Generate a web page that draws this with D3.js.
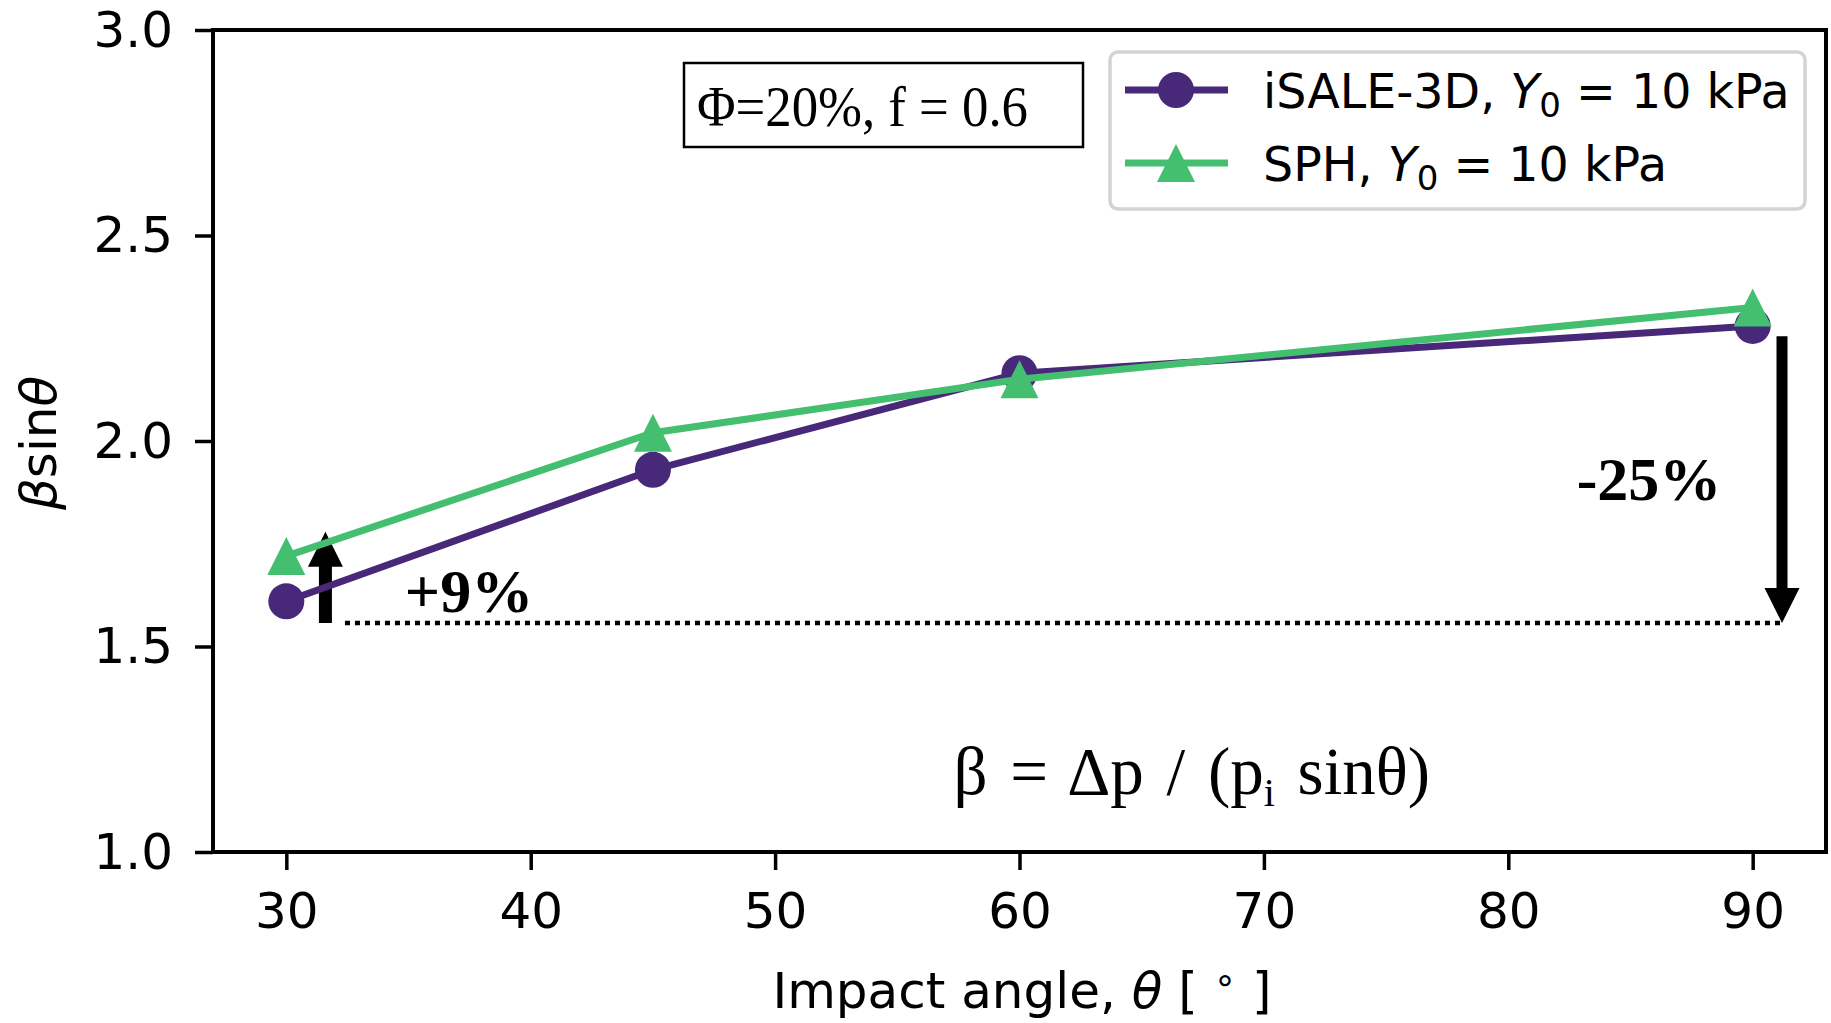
<!DOCTYPE html>
<html>
<head>
<meta charset="utf-8">
<script src="https://cdn.jsdelivr.net/npm/d3@7"></script>
<style>
  body { margin: 0; background: #fff; }
  svg { display: block; }
</style>
</head>
<body>
<svg width="1831" height="1023"></svg>
<script>
// data
var angles = [30, 45, 60, 90];
var isale = [1.61, 1.93, 2.165, 2.28];
var sph = [1.72, 2.02, 2.15, 2.325];
var xTicks = [30, 40, 50, 60, 70, 80, 90];
var yTicks = [1.0, 1.5, 2.0, 2.5, 3.0];

// annotation anchors, in data units
var refLevel = 1.557;
var refFrom = 32.4, refTo = 91.15;
var upArrow = {x: 31.6, from: 1.557, to: 1.779};
var downArrow = {x: 91.2, from: 2.255, to: 1.557};

var purple = "#482878",
    green = "#44bf70",
    sans = "'DejaVu Sans', sans-serif",
    serif = "'Liberation Serif', 'Times New Roman', serif";

var svg = d3.select("svg");
svg.append("rect").attr("width", 1831).attr("height", 1023).attr("fill", "#fff");

var plotL = 213, plotR = 1826, plotT = 30, plotB = 852;

var x = d3.scaleLinear().domain([27, 93]).range([plotL, plotR]);
var y = d3.scaleLinear().domain([1.0, 3.0]).range([plotB, plotT]);

// axes
var xAxis = svg.append("g")
    .attr("transform", "translate(0," + plotB + ")")
    .call(d3.axisBottom(x).tickValues(xTicks).tickSize(18).tickPadding(22).tickFormat(d3.format("d")));
var yAxis = svg.append("g")
    .attr("transform", "translate(" + plotL + ",0)")
    .call(d3.axisLeft(y).tickValues(yTicks).tickSize(18).tickPadding(22).tickFormat(d3.format(".1f")));

[xAxis, yAxis].forEach(function(a) {
  a.select(".domain").remove();
  a.selectAll(".tick line").attr("stroke", "#000").attr("stroke-width", 3.5);
  a.selectAll(".tick text")
    .attr("fill", "#000")
    .style("font-family", sans)
    .style("font-size", "50px");
});

// frame
svg.append("rect")
    .attr("x", plotL).attr("y", plotT)
    .attr("width", plotR - plotL).attr("height", plotB - plotT)
    .attr("fill", "none").attr("stroke", "#000").attr("stroke-width", 4);

// axis labels
svg.append("text")
    .attr("x", 1022).attr("y", 1008)
    .attr("text-anchor", "middle")
    .style("font-family", sans).style("font-size", "50px")
    .call(function(t) {
      t.append("tspan").text("Impact angle, ");
      t.append("tspan").style("font-style", "italic").text("θ");
      t.append("tspan").text(" [ ");
      t.append("tspan").attr("dy", -16).style("font-size", "36px").text("∘");
      t.append("tspan").attr("dy", 16).text(" ]");
    });

svg.append("text")
    .attr("transform", "translate(56,443) rotate(-90)")
    .attr("text-anchor", "middle")
    .style("font-family", sans).style("font-size", "50px")
    .call(function(t) {
      t.append("tspan").style("font-style", "italic").text("β");
      t.append("tspan").text("sin");
      t.append("tspan").style("font-style", "italic").text("θ");
    });

// reference dotted line
svg.append("line")
    .attr("x1", x(refFrom)).attr("x2", x(refTo))
    .attr("y1", y(refLevel)).attr("y2", y(refLevel))
    .attr("stroke", "#000").attr("stroke-width", 4.5)
    .attr("stroke-dasharray", "5,5");

// arrows
function arrow(a, shaft) {
  var ax = x(a.x), y0 = y(a.from), y1 = y(a.to);
  var dir = y1 < y0 ? -1 : 1, head = 35, hw = 17.5, sw = shaft / 2;
  var yb = y1 - dir * head;
  var p = d3.path();
  p.moveTo(ax - sw, y0);
  p.lineTo(ax - sw, yb);
  p.lineTo(ax - hw, yb);
  p.lineTo(ax, y1);
  p.lineTo(ax + hw, yb);
  p.lineTo(ax + sw, yb);
  p.lineTo(ax + sw, y0);
  p.closePath();
  svg.append("path").attr("d", p.toString()).attr("fill", "#000");
}
arrow(upArrow, 13);
arrow(downArrow, 11);

// series
var line = d3.line()
    .x(function(d) { return x(d[0]); })
    .y(function(d) { return y(d[1]); });

var isalePts = d3.zip(angles, isale);
var sphPts = d3.zip(angles, sph);

svg.append("path")
    .attr("d", line(isalePts))
    .attr("fill", "none").attr("stroke", purple).attr("stroke-width", 7)
    .attr("stroke-linejoin", "round");
svg.selectAll(".dot")
  .data(isalePts)
  .enter().append("circle")
    .attr("class", "dot")
    .attr("cx", function(d) { return x(d[0]); })
    .attr("cy", function(d) { return y(d[1]); })
    .attr("r", 18)
    .attr("fill", purple);

var tri = "M0,-19L-19,19L19,19Z";
svg.append("path")
    .attr("d", line(sphPts))
    .attr("fill", "none").attr("stroke", green).attr("stroke-width", 7)
    .attr("stroke-linejoin", "round");
svg.selectAll(".tri")
  .data(sphPts)
  .enter().append("path")
    .attr("class", "tri")
    .attr("transform", function(d) { return "translate(" + x(d[0]) + "," + y(d[1]) + ")"; })
    .attr("d", tri)
    .attr("fill", green);

// percentage labels
svg.append("text")
    .attr("x", x(34.85)).attr("y", y(1.583))
    .style("font-family", serif).style("font-size", "62px").style("font-weight", "bold")
    .text("+9%");
svg.append("text")
    .attr("x", x(82.8)).attr("y", y(1.856))
    .style("font-family", serif).style("font-size", "62px").style("font-weight", "bold")
    .text("-25%");

// formula
svg.append("text")
    .attr("x", x(57.3)).attr("y", y(1.141))
    .style("font-family", serif).style("font-size", "67px")
    .style("word-spacing", "6px")
    .call(function(t) {
      t.append("tspan").text("β = Δp / (p");
      t.append("tspan").attr("dy", 12).style("font-size", "40px").text("i");
      t.append("tspan").attr("dy", -12).text(" sinθ)");
    });

// parameter box
svg.append("rect")
    .attr("x", 684).attr("y", 63).attr("width", 399).attr("height", 84)
    .attr("fill", "#fff").attr("stroke", "#000").attr("stroke-width", 2.5);
svg.append("text")
    .attr("x", 697).attr("y", 126)
    .attr("textLength", 331).attr("lengthAdjust", "spacingAndGlyphs")
    .style("font-family", serif).style("font-size", "56px")
    .text("Φ=20%, f = 0.6");

// legend
var legend = svg.append("g");
legend.append("rect")
    .attr("x", 1110).attr("y", 52).attr("width", 695).attr("height", 157)
    .attr("rx", 8)
    .attr("fill", "#fff").attr("stroke", "#d3d3d3").attr("stroke-width", 3.5);

var entries = [
  {name: "iSALE-3D, ", color: purple, marker: "circle", cy: 90},
  {name: "SPH, ", color: green, marker: "tri", cy: 163}
];
entries.forEach(function(e) {
  legend.append("line")
      .attr("x1", 1125).attr("x2", 1228)
      .attr("y1", e.cy).attr("y2", e.cy)
      .attr("stroke", e.color).attr("stroke-width", 7);
  if (e.marker === "circle") {
    legend.append("circle").attr("cx", 1176).attr("cy", e.cy).attr("r", 18).attr("fill", e.color);
  } else {
    legend.append("path").attr("transform", "translate(1176," + e.cy + ")").attr("d", tri).attr("fill", e.color);
  }
  legend.append("text")
      .attr("x", 1263).attr("y", e.cy + 18)
      .style("font-family", sans).style("font-size", "47.5px")
      .call(function(t) {
        t.append("tspan").text(e.name);
        t.append("tspan").style("font-style", "italic").text("Y");
        t.append("tspan").attr("dy", 9).style("font-size", "34px").text("0");
        t.append("tspan").attr("dy", -9).text(" = 10 kPa");
      });
});
</script>
</body>
</html>
